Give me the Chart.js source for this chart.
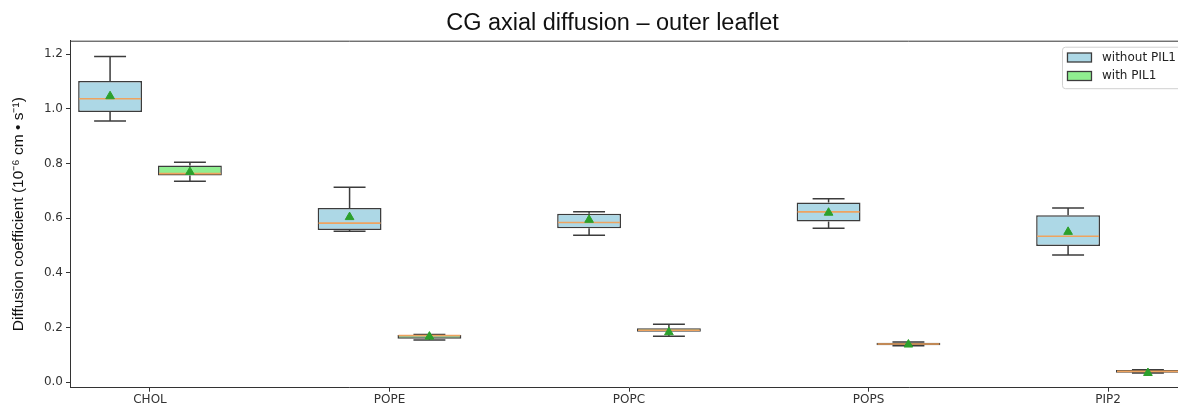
<!DOCTYPE html>
<html>
<head>
<meta charset="utf-8">
<title>CG axial diffusion – outer leaflet</title>
<script src="https://cdn.jsdelivr.net/npm/chart.js@4/dist/chart.umd.min.js"></script>
<style>
  html, body { margin: 0; padding: 0; overflow: hidden; background: #fff; }
  #wrap { width: 1225px; height: 406px; }
</style>
</head>
<body>
<div id="wrap"><canvas id="diffChart" width="1225" height="406"></canvas></div>
<script>
// lipid species on the x axis
const categories = ['CHOL', 'POPE', 'POPC', 'POPS', 'PIP2'];
const yTicks = [0.0, 0.2, 0.4, 0.6, 0.8, 1.0, 1.2];

// without PIL1 (box stats)
const woMin  = [0.955, 0.552, 0.538, 0.563, 0.465];
const woQ1   = [0.988, 0.557, 0.563, 0.588, 0.498];
const woMed  = [1.037, 0.582, 0.584, 0.623, 0.534];
const woQ3   = [1.102, 0.637, 0.616, 0.657, 0.611];
const woMax  = [1.191, 0.713, 0.624, 0.671, 0.637];
const woMean = [1.046, 0.604, 0.594, 0.620, 0.550];

// with PIL1
const wMin  = [0.735, 0.155, 0.168, 0.134, 0.034];
const wQ1   = [0.756, 0.159, 0.185, 0.135, 0.035];
const wMed  = [0.763, 0.171, 0.190, 0.140, 0.040];
const wQ3   = [0.793, 0.173, 0.198, 0.145, 0.045];
const wMax  = [0.805, 0.175, 0.212, 0.147, 0.046];
const wMean = [0.769, 0.167, 0.183, 0.138, 0.034];

const OFFSET = 1 / 6;
const BLUE = '#add8e6';
const GREEN = '#90ee90';
const EDGE = '#3c3c3c';
const MEDIAN = '#eea35f';
const MEAN = '#2ca02c';
const TICK_FONT = { family: '"DejaVu Sans"', size: 12 };

const groups = [
  { label: 'without PIL1', color: BLUE, shift: -OFFSET, min: woMin, q1: woQ1, med: woMed, q3: woQ3, max: woMax, mean: woMean },
  { label: 'with PIL1', color: GREEN, shift: OFFSET, min: wMin, q1: wQ1, med: wMed, q3: wQ3, max: wMax, mean: wMean }
];

const boxDatasets = groups.map(g => ({
  type: 'bar',
  label: g.label,
  data: categories.map((c, i) => ({ x: i + g.shift, y: [g.q1[i], g.q3[i]] })),
  backgroundColor: g.color,
  borderColor: EDGE,
  borderWidth: 1.5,
  borderSkipped: false,
  grouped: false,
  categoryPercentage: 1,
  barPercentage: 0.8,
  order: 2
}));

const meanDatasets = groups.map(g => ({
  type: 'scatter',
  label: g.label + ' mean',
  data: categories.map((c, i) => ({ x: i + g.shift, y: g.mean[i] })),
  pointStyle: 'triangle',
  pointRadius: 5,
  backgroundColor: MEAN,
  borderColor: MEAN,
  borderWidth: 1,
  order: 0
}));

// whiskers + caps behind the boxes, medians on top of each box
const boxPlotParts = {
  id: 'boxPlotParts',
  beforeDatasetsDraw(chart) {
    const ctx = chart.ctx;
    const y = chart.scales.y;
    ctx.save();
    ctx.strokeStyle = EDGE;
    ctx.lineWidth = 1.5;
    groups.forEach((g, d) => {
      const meta = chart.getDatasetMeta(d);
      meta.data.forEach((bar, i) => {
        const cx = bar.x;
        const half = bar.width / 4;
        const yLo = y.getPixelForValue(g.min[i]);
        const yQ1 = y.getPixelForValue(g.q1[i]);
        const yQ3 = y.getPixelForValue(g.q3[i]);
        const yHi = y.getPixelForValue(g.max[i]);
        ctx.beginPath();
        ctx.moveTo(cx, yQ3); ctx.lineTo(cx, yHi);
        ctx.moveTo(cx, yQ1); ctx.lineTo(cx, yLo);
        ctx.moveTo(cx - half, yHi); ctx.lineTo(cx + half, yHi);
        ctx.moveTo(cx - half, yLo); ctx.lineTo(cx + half, yLo);
        ctx.stroke();
      });
    });
    ctx.restore();
  },
  afterDatasetDraw(chart, args) {
    const g = groups[args.index];
    if (!g || args.meta.type !== 'bar') return;
    const ctx = chart.ctx;
    const y = chart.scales.y;
    ctx.save();
    ctx.strokeStyle = MEDIAN;
    ctx.lineWidth = 1.6;
    args.meta.data.forEach((bar, i) => {
      const ym = y.getPixelForValue(g.med[i]);
      ctx.beginPath();
      ctx.moveTo(bar.x - bar.width / 2 + 1, ym);
      ctx.lineTo(bar.x + bar.width / 2 - 1, ym);
      ctx.stroke();
    });
    ctx.restore();
  },
  afterDraw(chart) {
    const ctx = chart.ctx;
    const a = chart.chartArea;
    ctx.save();
    // top spine
    ctx.strokeStyle = '#333';
    ctx.lineWidth = 1;
    ctx.beginPath();
    ctx.moveTo(a.left, a.top + 0.5);
    ctx.lineTo(a.right, a.top + 0.5);
    ctx.stroke();

    // legend, upper right inside the axes
    ctx.font = '12px "DejaVu Sans"';
    const textW = Math.max(...groups.map(g => ctx.measureText(g.label).width));
    const w = 5 + 24 + 11 + textW + 6;
    const h = 41.5;
    const right = a.right - 6;
    const left = right - w;
    const top = a.top + 6;
    ctx.fillStyle = 'rgba(255,255,255,0.85)';
    ctx.strokeStyle = '#d0d0d0';
    ctx.beginPath();
    ctx.roundRect(left + 0.5, top + 0.5, w, h, 3);
    ctx.fill();
    ctx.stroke();
    groups.forEach((g, k) => {
      const cy = top + 10.8 + k * 18.5;
      ctx.fillStyle = g.color;
      ctx.strokeStyle = EDGE;
      ctx.lineWidth = 1.3;
      ctx.fillRect(left + 5.5, cy - 4.5, 24, 9);
      ctx.strokeRect(left + 5.5, cy - 4.5, 24, 9);
      ctx.fillStyle = '#222';
      ctx.textBaseline = 'middle';
      ctx.textAlign = 'left';
      ctx.fillText(g.label, left + 40, cy);
    });
    ctx.restore();
  }
};

new Chart(document.getElementById('diffChart').getContext('2d'), {
  type: 'bar',
  data: { datasets: [...boxDatasets, ...meanDatasets] },
  options: {
    responsive: false,
    animation: false,
    events: [],
    layout: { padding: 0 },
    plugins: {
      legend: { display: false },
      tooltip: { enabled: false },
      title: {
        display: true,
        text: 'CG axial diffusion – outer leaflet',
        color: '#111',
        font: { family: '"Liberation Sans", Arial, sans-serif', size: 23.5, weight: 'normal' },
        padding: { top: 9, bottom: 3.5 }
      }
    },
    scales: {
      x: {
        type: 'linear',
        offset: false,
        min: -0.334,
        max: 4.334,
        afterBuildTicks: s => { s.ticks = categories.map((c, i) => ({ value: i })); },
        afterFit: s => { s.height = 18.3; },
        ticks: {
          callback: v => categories[v],
          font: TICK_FONT,
          color: '#333',
          padding: 1,
          maxRotation: 0,
          autoSkip: false
        },
        grid: { display: true, offset: false, drawOnChartArea: false, tickLength: 4, color: '#333' },
        border: { display: true, color: '#333', width: 1 }
      },
      y: {
        min: -0.0198,
        max: 1.249,
        afterBuildTicks: s => { s.ticks = yTicks.map(v => ({ value: v })); },
        afterFit: s => { s.width = 70; },
        ticks: {
          callback: v => v.toFixed(1),
          font: TICK_FONT,
          color: '#333',
          padding: 3
        },
        grid: { display: true, drawOnChartArea: false, tickLength: 4, color: '#333' },
        border: { display: true, color: '#333', width: 1 },
        title: {
          display: true,
          text: 'Diffusion coefficient (10⁻⁶ cm • s⁻¹)',
          color: '#111',
          font: { family: '"Liberation Sans", Arial, sans-serif', size: 15.5 },
          padding: { top: 9.5, bottom: 0 }
        }
      },
      yRight: {
        position: 'right',
        display: true,
        afterFit: s => { s.width = 37; },
        ticks: { display: false },
        grid: { display: false },
        border: { display: true, color: '#333', width: 1 }
      }
    }
  },
  plugins: [boxPlotParts]
});
</script>
</body>
</html>
